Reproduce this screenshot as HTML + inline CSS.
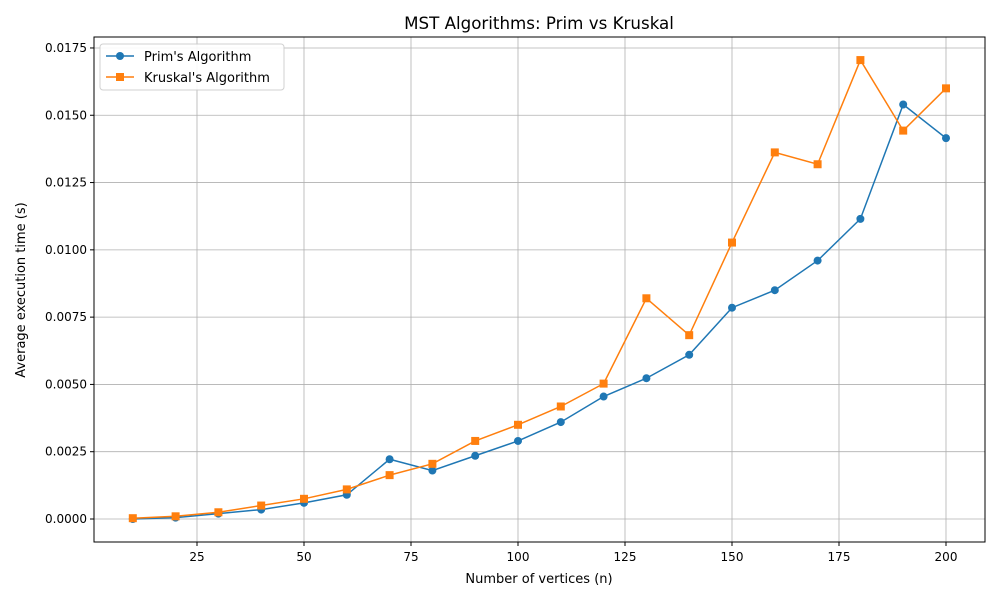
<!DOCTYPE html>
<html><head><meta charset="utf-8"><style>
body{margin:0;background:#fff;}
svg text{font-family:"DejaVu Sans","Liberation Sans",sans-serif;fill:#000;}
</style></head><body>
<svg id="chart" width="1000" height="600" xmlns="http://www.w3.org/2000/svg">
<rect width="1000" height="600" fill="#fff"/>
<text x="539" y="29" font-size="16.7" text-anchor="middle">MST Algorithms: Prim vs Kruskal</text>
<g id="grid"></g><g id="ticks"></g><g id="series"></g>
<rect x="94" y="37" width="891" height="505" fill="none" stroke="#000" stroke-width="1"/>
<text x="539" y="583" font-size="13" text-anchor="middle">Number of vertices (n)</text>
<text transform="translate(25,290) rotate(-90)" font-size="13" text-anchor="middle">Average execution time (s)</text>
<g>
<rect x="100" y="44" width="184" height="46" rx="3" fill="#fff" stroke="#ccc" opacity="0.9"/>
<g>
<line x1="106" y1="56" x2="134" y2="56" stroke="#1f77b4" stroke-width="1.5"/><circle cx="120" cy="56" r="4" fill="#1f77b4"/>
<text x="144" y="61" font-size="13">Prim's Algorithm</text></g>
<g>
<line x1="106" y1="77" x2="134" y2="77" stroke="#ff7f0e" stroke-width="1.5"/><rect x="116" y="73" width="8" height="8" fill="#ff7f0e"/>
<text x="144" y="82" font-size="13">Kruskal's Algorithm</text></g>
</g>
</svg>
<script>
const categories=[10,20,30,40,50,60,70,80,90,100,110,120,130,140,150,160,170,180,190,200];
const primValues=[0.0000,0.00005,0.0002,0.00035,0.0006,0.0009,0.00222,0.0018,0.00235,0.0029,0.0036,0.00455,0.00523,0.0061,0.00785,0.0085,0.0096,0.01115,0.0154,0.01415];
const kruskalValues=[0.00003,0.0001,0.00025,0.0005,0.00075,0.0011,0.00163,0.00205,0.0029,0.0035,0.00418,0.00503,0.0082,0.00683,0.01027,0.01362,0.01318,0.01705,0.01443,0.0160];
const xTicks=[25,50,75,100,125,150,175,200];
const yTicks=[0,0.0025,0.005,0.0075,0.01,0.0125,0.015,0.0175];
const NS="http://www.w3.org/2000/svg";
function X(v){return 197+(v-25)*4.28;}
function Y(v){return 519-v/0.0025*67.29;}
function mk(t,a,p){const e=document.createElementNS(NS,t);for(const k in a)e.setAttribute(k,a[k]);p.appendChild(e);return e;}
const grid=document.getElementById('grid'),ticks=document.getElementById('ticks'),series=document.getElementById('series');
xTicks.forEach(v=>{
const g=mk('line',{x1:X(v),x2:X(v),y1:37,y2:542,stroke:'#b0b0b0','stroke-width':0.8},grid);


mk('line',{x1:X(v),x2:X(v),y1:542,y2:546,stroke:'#000'},ticks);
const t=mk('text',{x:X(v),y:561,'font-size':12,'text-anchor':'middle'},ticks);t.textContent=v;


});
yTicks.forEach(v=>{
const g=mk('line',{x1:94,x2:985,y1:Y(v),y2:Y(v),stroke:'#b0b0b0','stroke-width':0.8},grid);


mk('line',{x1:90,x2:94,y1:Y(v),y2:Y(v),stroke:'#000'},ticks);
const t=mk('text',{x:87,y:Y(v)+4,'font-size':12,'text-anchor':'end'},ticks);t.textContent=v.toFixed(4);


});
function draw(vals,color,sq,name){
const pts=categories.map((c,i)=>X(c)+','+Y(vals[i])).join(' ');
const l=mk('polyline',{points:pts,fill:'none',stroke:color,'stroke-width':1.5},series);


categories.forEach((c,i)=>{
let m;
if(sq)m=mk('rect',{x:X(c)-4,y:Y(vals[i])-4,width:8,height:8,fill:color},series);
else m=mk('circle',{cx:X(c),cy:Y(vals[i]),r:4,fill:color},series);


});
}
draw(primValues,'#1f77b4',false,'prim');
draw(kruskalValues,'#ff7f0e',true,'kruskal');
</script>
</body></html>
